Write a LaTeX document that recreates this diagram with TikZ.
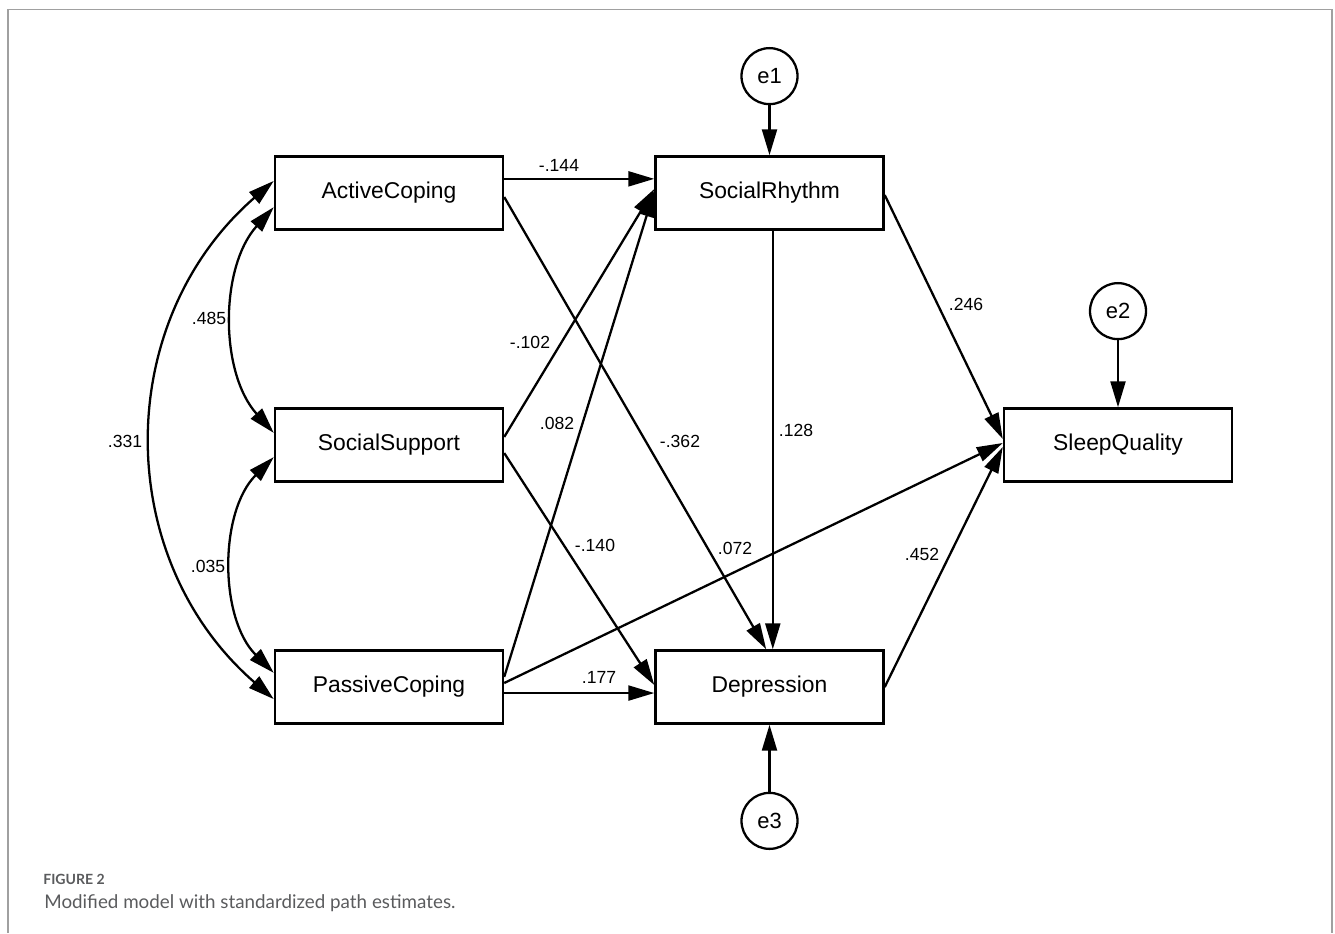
\documentclass[tikz,border=0pt]{standalone}
\usepackage{fontspec}
\setmainfont{Liberation Sans}
\newfontfamily\capfont{Lato}
\usetikzlibrary{arrows.meta,positioning}
\definecolor{framegray}{HTML}{A0A0A0}
\definecolor{capgray}{HTML}{5A5B5D}

\begin{document}
\begin{tikzpicture}[x=0.2mm,y=-0.2mm,>={Triangle[length=0.52cm,width=0.3cm]},node distance=1cm]
  \tikzstyle{var}=[draw,line width=1.4pt,minimum width=4.56cm,minimum height=1.46cm,font=\fontsize{13}{15}\selectfont]
  \tikzstyle{err}=[draw,circle,line width=1.3pt,minimum size=1.12cm,inner sep=0pt,font=\fontsize{12.5}{14}\selectfont]
  \tikzstyle{est}=[inner sep=1pt,font=\fontsize{10}{12}\selectfont]
  \tikzstyle{arr}=[line width=1.3pt,->]
  \useasboundingbox (0,0) rectangle (1335,933);
  \draw[framegray,line width=0.7pt] (8,933) -- (8,9.5) -- (1332,9.5) -- (1332,933);
  % observed variables
  \node[var] (ac) at (389,193) {ActiveCoping};
  \node[var] (ss) at (389,445) {SocialSupport};
  \node[var] (pc) at (389,687) {PassiveCoping};
  \node[var] (sr) at (769.5,193) {SocialRhythm};
  \node[var] (dep) at (769.5,687) {Depression};
  \node[var] (sq) at (1118,445) {SleepQuality};
  % residuals
  \node[err,above=1cm of sr] (e1) {e1};
  \node[err,above=1.34cm of sq] (e2) {e2};
  \node[err,below=1.34cm of dep] (e3) {e3};
  \draw[arr] (e1) -- (sr);
  \draw[arr] (e2) -- (sq);
  \draw[arr] (e3) -- (dep);
  % paths
  \draw[arr] (ac.7) -- (sr.173);
  \draw[arr] (ac.-2) -- (dep.95);
  \draw[arr] (ss.4) -- (sr.178);
  \draw[arr] (pc.5) -- (sr.179);
  \draw[arr] (ss.-4) -- (dep.179);
  \draw[arr] (pc.-3) -- (dep.183);
  \draw[arr] (pc.2) -- (sq.179);
  \draw[arr] (sr.-85) -- (dep.85);
  \draw[arr] (sr.-1) -- (sq.177);
  \draw[arr] (dep.0) -- (sq.181);
  % covariances
  \draw[arr,<->] (ac.174) to[bend right=49,looseness=1.06] (pc.186);
  \draw[arr,<->] (ac.187) to[bend right=42,looseness=0.92] (ss.174);
  \draw[arr,<->] (ss.186) to[bend right=45,looseness=0.92] (pc.173);
  % estimates
  \node[est] (l144) at (559,165) {-.144};
  \node[est] (l362) at (680,441) {-.362};
  \node[est] (l102) at (530,342) {-.102};
  \node[est] (l082) at (557,423) {.082};
  \node[est] (l140) at (595,545) {-.140};
  \node[est] (l177) at (599,677) {.177};
  \node[est] (l072) at (735,548) {.072};
  \node[est] (l128) at (796,430) {.128};
  \node[est] (l246) at (966,304) {.246};
  \node[est] (l452) at (922,554) {.452};
  \node[est] (l485) at (209,318) {.485};
  \node[est] (l331) at (125,441) {.331};
  \node[est] (l035) at (208,566) {.035};
  % caption
  \node[anchor=base west,inner sep=0pt,text=capgray,font=\capfont\bfseries\fontsize{8}{10}\selectfont] (fig) at (43,884) {FIGURE 2};
  \node[anchor=base west,inner sep=0pt,text=capgray,font=\capfont\fontsize{10.7}{12}\selectfont] (cap) at (44,908) {Modified model with standardized path estimates.};
\end{tikzpicture}
\end{document}
